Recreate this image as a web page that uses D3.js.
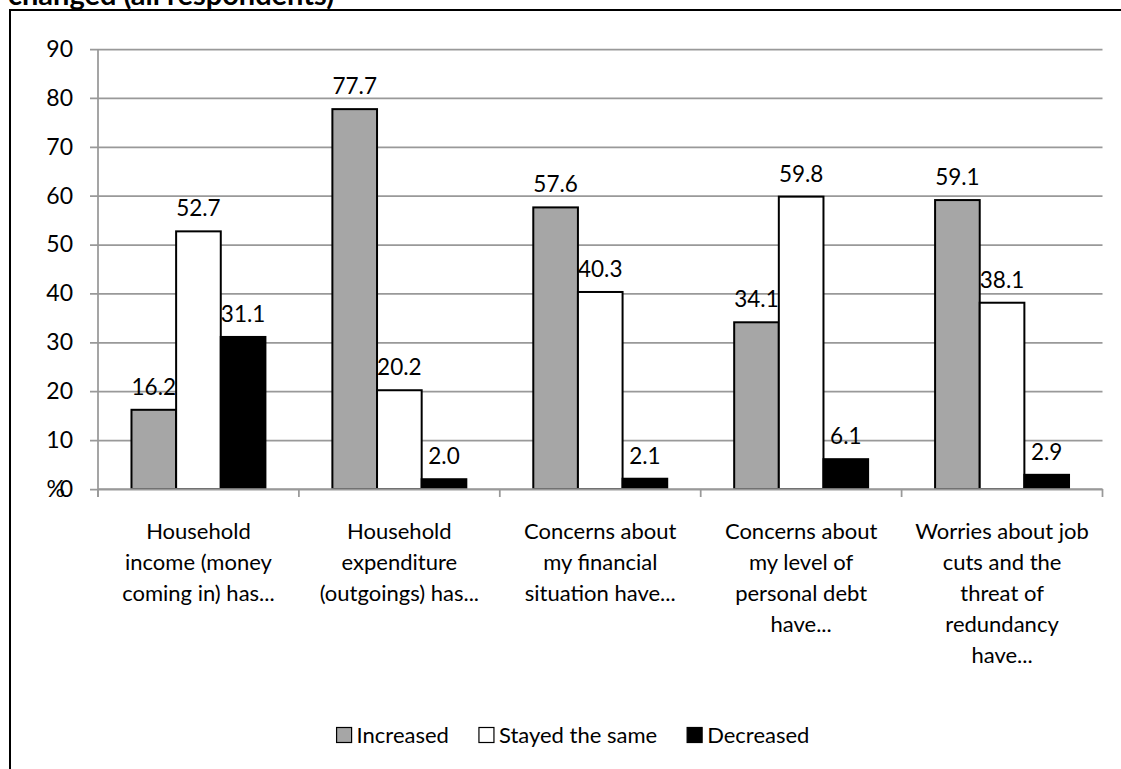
<!DOCTYPE html>
<html>
<head>
<meta charset="utf-8">
<script src="https://cdn.jsdelivr.net/npm/d3@7"></script>
<style>
  body { margin: 0; background: #fff; }
  svg { display: block; font-family: Lato, "Open Sans", sans-serif; }
</style>
</head>
<body>
<div id="chart"></div>
<script>
// Data
let categories = [
    ["Household", "income (money", "coming in) has..."],
    ["Household", "expenditure", "(outgoings) has..."],
    ["Concerns about", "my financial", "situation have..."],
    ["Concerns about", "my level of", "personal debt", "have..."],
    ["Worries about job", "cuts and the", "threat of", "redundancy", "have..."]
];
let seriesNames = ["Increased", "Stayed the same", "Decreased"];
let increased = [16.2, 77.7, 57.6, 34.1, 59.1];
let stayedSame = [52.7, 20.2, 40.3, 59.8, 38.1];
let decreased = [31.1, 2.0, 2.1, 6.1, 2.9];
let yTicks = [0, 10, 20, 30, 40, 50, 60, 70, 80, 90];

let seriesValues = [increased, stayedSame, decreased];
let seriesFill = ["#a6a6a6", "#ffffff", "#000000"];

let W = 1121, H = 769;
let plot = {left: 98, right: 1102.5, top: 49, bottom: 489};

let svg = d3.select("#chart").append("svg")
    .attr("width", W)
    .attr("height", H);

// chart frame (runs off the right and bottom of the picture)
svg.append("rect")
    .attr("x", 10).attr("y", 10)
    .attr("width", 1300).attr("height", 900)
    .attr("fill", "#fff")
    .attr("stroke", "#000")
    .attr("stroke-width", 2);

// clipped title above the frame
svg.append("text")
    .attr("x", 8).attr("y", 5)
    .attr("font-size", 29)
    .attr("font-weight", "bold")
    .text("changed (all respondents)");

let catIdx = d3.range(categories.length);

let x0 = d3.scaleBand()
    .domain(catIdx)
    .range([plot.left, plot.right])
    .paddingInner(0).paddingOuter(0);

let x1 = d3.scaleBand()
    .domain(d3.range(seriesNames.length))
    .range([0, x0.bandwidth()])
    .paddingInner(0).paddingOuter(0.75);

let y = d3.scaleLinear()
    .domain([0, 90])
    .range([plot.bottom, plot.top]);

// y axis with gridlines
let yAxis = svg.append("g")
    .attr("transform", "translate(" + plot.left + ",0)")
    .call(d3.axisLeft(y).tickValues(yTicks).tickSize(8).tickPadding(17).tickFormat(d3.format("d")));

yAxis.select(".domain").remove();
yAxis.selectAll(".tick line")
    .attr("stroke", "#999")
    .attr("stroke-width", 1.75)
    .attr("x2", plot.right - plot.left)
    .attr("x1", -8);
yAxis.selectAll(".tick text")
    .attr("font-size", 23)
    .attr("font-family", "Lato")
    .attr("fill", "#000");

// vertical axis line
svg.append("line")
    .attr("x1", plot.left).attr("x2", plot.left)
    .attr("y1", plot.top).attr("y2", plot.bottom + 8)
    .attr("stroke", "#999")
    .attr("stroke-width", 1.75);

// "%" axis title sitting over the zero
svg.append("text")
    .attr("x", 65).attr("y", y(0))
    .attr("dy", "0.35em")
    .attr("text-anchor", "end")
    .attr("font-size", 23)
    .text("%");

// bars
let groups = svg.append("g").selectAll("g")
    .data(seriesNames)
    .enter().append("g");

groups.each(function(name, s) {
    let g = d3.select(this);
    g.selectAll("rect")
        .data(seriesValues[s])
        .enter().append("rect")
        .attr("x", (d, i) => x0(i) + x1(s))
        .attr("y", d => y(d))
        .attr("width", x1.bandwidth())
        .attr("height", d => y(0) - y(d))
        .attr("fill", seriesFill[s])
        .attr("stroke", "#000")
        .attr("stroke-width", 2);
});

// value labels
groups.each(function(name, s) {
    d3.select(this).selectAll("text")
        .data(seriesValues[s])
        .enter().append("text")
        .attr("x", (d, i) => x0(i) + x1(s) + x1.bandwidth() / 2)
        .attr("y", d => y(d) - 15)
        .attr("text-anchor", "middle")
        .attr("font-size", 22.5)
        .text(d => d.toFixed(1));
});

// x axis line and category ticks
svg.append("line")
    .attr("x1", plot.left).attr("x2", plot.right)
    .attr("y1", plot.bottom).attr("y2", plot.bottom)
    .attr("stroke", "#999")
    .attr("stroke-width", 1.75);

svg.append("g").selectAll("line")
    .data(catIdx.concat([categories.length]))
    .enter().append("line")
    .attr("x1", d => d < categories.length ? x0(d) : plot.right)
    .attr("x2", d => d < categories.length ? x0(d) : plot.right)
    .attr("y1", plot.bottom)
    .attr("y2", plot.bottom + 8)
    .attr("stroke", "#999")
    .attr("stroke-width", 1.75);

// category labels, wrapped as in the reference
let catLabels = svg.append("g").selectAll("text")
    .data(categories)
    .enter().append("text")
    .attr("text-anchor", "middle")
    .attr("font-size", 22);

catLabels.each(function(lines, i) {
    let t = d3.select(this);
    lines.forEach((line, k) => {
        t.append("tspan")
            .attr("x", x0(i) + x0.bandwidth() / 2)
            .attr("y", 538.5 + k * 31.1)
            .text(line);
    });
});

// legend, centred under the plot
let legend = svg.append("g");
let items = legend.selectAll("g")
    .data(seriesNames)
    .enter().append("g");

items.append("rect")
    .attr("width", 15).attr("height", 15)
    .attr("y", -15)
    .attr("fill", (d, i) => seriesFill[i])
    .attr("stroke", "#000")
    .attr("stroke-width", 1.2);

items.append("text")
    .attr("x", 20)
    .attr("font-size", 22)
    .text(d => d);

let pos = 0;
let widths = [];
items.each(function() {
    let w = 20 + d3.select(this).select("text").node().getComputedTextLength();
    widths.push(w);
});
items.attr("transform", (d, i) => {
    let p = pos;
    pos += widths[i] + 30;
    return "translate(" + p + ",0)";
});
let total = pos - 30;
legend.attr("transform", "translate(" + (573 - total / 2) + ",742.5)");
</script>
</body>
</html>
